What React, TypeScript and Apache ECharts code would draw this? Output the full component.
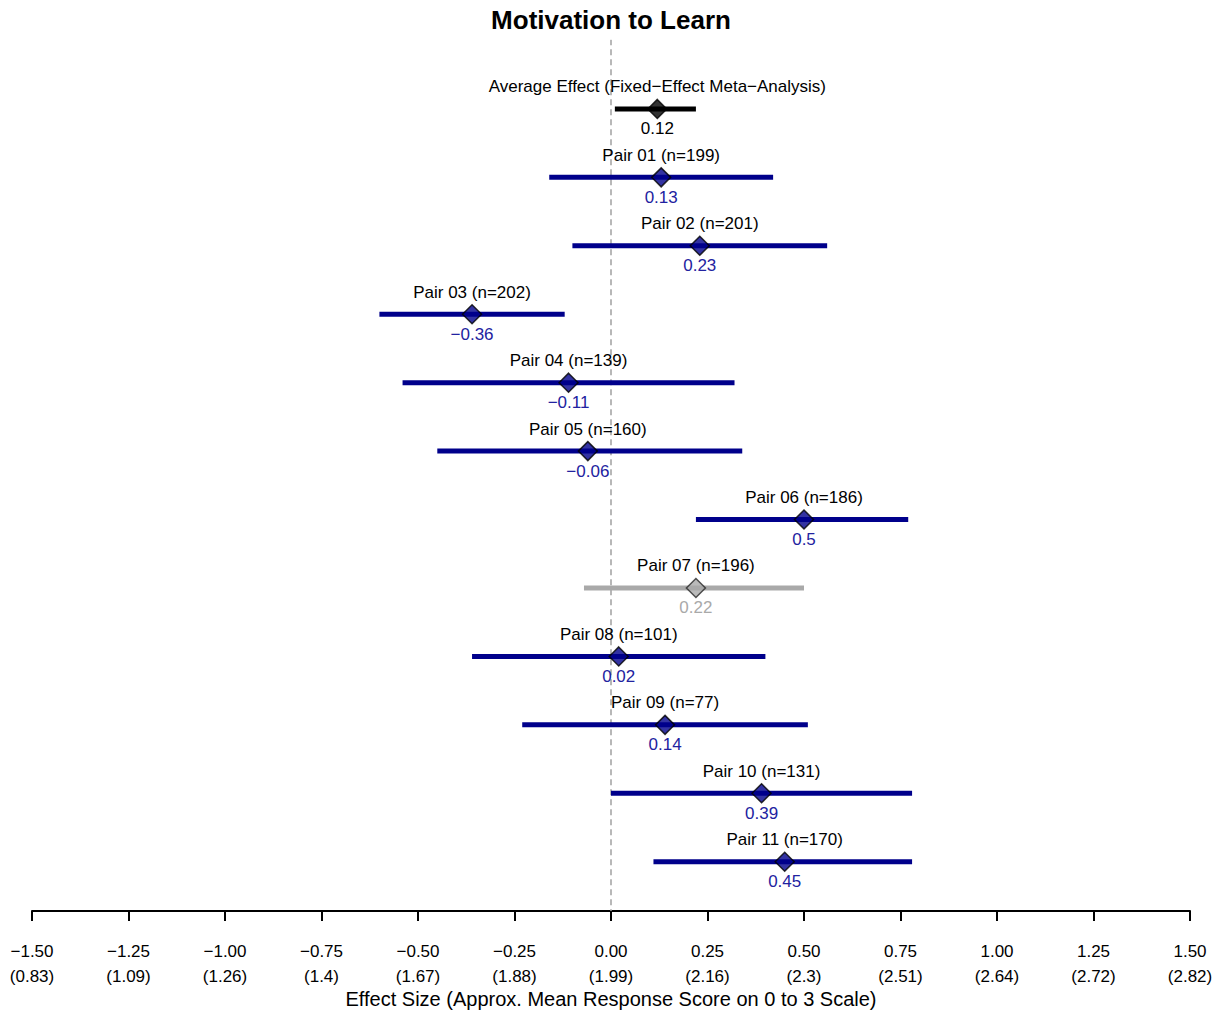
import React, { useEffect, useRef } from "react";
import * as echarts from "echarts";

const rowLabels = [
  "Average Effect (Fixed\u2212Effect Meta\u2212Analysis)",
  "Pair 01 (n=199)",
  "Pair 02 (n=201)",
  "Pair 03 (n=202)",
  "Pair 04 (n=139)",
  "Pair 05 (n=160)",
  "Pair 06 (n=186)",
  "Pair 07 (n=196)",
  "Pair 08 (n=101)",
  "Pair 09 (n=77)",
  "Pair 10 (n=131)",
  "Pair 11 (n=170)",
];
const estimates = [0.12, 0.13, 0.23, -0.36, -0.11, -0.06, 0.5, 0.22, 0.02, 0.14, 0.39, 0.45];
const lowerCI = [0.01, -0.16, -0.1, -0.6, -0.54, -0.45, 0.22, -0.07, -0.36, -0.23, 0.0, 0.11];
const upperCI = [0.22, 0.42, 0.56, -0.12, 0.32, 0.34, 0.77, 0.5, 0.4, 0.51, 0.78, 0.78];
const rowKinds = ["average", "pair", "pair", "pair", "pair", "pair", "pair", "excluded", "pair", "pair", "pair", "pair"];

const tickPrimary = ["\u22121.50", "\u22121.25", "\u22121.00", "\u22120.75", "\u22120.50", "\u22120.25", "0.00", "0.25", "0.50", "0.75", "1.00", "1.25", "1.50"];
const tickSecondary = ["0.83", "1.09", "1.26", "1.4", "1.67", "1.88", "1.99", "2.16", "2.3", "2.51", "2.64", "2.72", "2.82"];

const FONT = "'Liberation Sans', Arial, sans-serif";
const colors: Record<string, { line: string; fill: string; border: string; value: string }> = {
  average: { line: "#000000", fill: "#000000", border: "#000000", value: "#000000" },
  pair: { line: "#00008B", fill: "#00008B", border: "#000000", value: "#2222a0" },
  excluded: { line: "#A9A9A9", fill: "#A9A9A9", border: "#2a2a2a", value: "#A9A9A9" },
};

function fmtVal(v: number) {
  const s = String(Math.abs(v));
  return v < 0 ? "\u2212" + s : s;
}

export default function App() {
  const ref = useRef<HTMLDivElement>(null);
  useEffect(() => {
    document.body.style.margin = "0";
    if (!ref.current) return;
    const chart = echarts.init(ref.current, undefined, { renderer: "svg" });
    const rows = rowLabels.map((name, i) => [lowerCI[i], upperCI[i], i, estimates[i]]);
    chart.setOption({
      animation: false,
      title: {
        text: "Motivation to Learn",
        left: "center",
        top: 2,
        textStyle: { fontFamily: FONT, fontSize: 26, fontWeight: "bold", color: "#000" },
      },
      grid: { left: 32, right: 32, top: 40.5, bottom: 103, containLabel: false, outerBoundsMode: "none" },
      xAxis: {
        type: "value",
        min: -1.5,
        max: 1.5,
        interval: 0.25,
        splitLine: { show: false },
        axisLine: { show: true, onZero: false, lineStyle: { color: "#000", width: 2 } },
        axisTick: { show: true, length: 10, inside: false, lineStyle: { color: "#000", width: 2 } },
        axisLabel: {
          fontFamily: FONT,
          fontSize: 17,
          lineHeight: 25,
          color: "#000",
          margin: 28,
          showMinLabel: true,
          showMaxLabel: true,
          formatter: (v: number) => {
            const idx = Math.round((v + 1.5) / 0.25);
            return tickPrimary[idx] + "\n(" + tickSecondary[idx] + ")";
          },
        },
        name: "Effect Size (Approx. Mean Response Score on 0 to 3 Scale)",
        nameLocation: "middle",
        nameGap: 78,
        nameMoveOverlap: false,
        nameTextStyle: { fontFamily: FONT, fontSize: 20, color: "#000" },
      },
      yAxis: {
        type: "value",
        inverse: true,
        min: -1,
        max: 11.72,
        show: false,
      },
      series: [
        {
          type: "line",
          data: [[0, -1.02], [0, 11.72]],
          symbol: "none",
          lineStyle: { color: "#A0A0A0", width: 1.5, type: [6, 4] },
          z: 1,
          silent: true,
        },
        {
          type: "custom",
          data: rows,
          z: 2,
          encode: { x: [0, 1], y: 2 },
          renderItem: (params: any, api: any) => {
            const i = params.dataIndex;
            const c = colors[rowKinds[i]];
            const p1 = api.coord([api.value(0), api.value(2)]);
            const p2 = api.coord([api.value(1), api.value(2)]);
            const pm = api.coord([api.value(3), api.value(2)]);
            return {
              type: "group",
              children: [
                {
                  type: "line",
                  shape: { x1: p1[0], y1: p1[1], x2: p2[0], y2: p2[1] },
                  style: { stroke: c.line, lineWidth: 5 },
                },
                {
                  type: "text",
                  x: pm[0],
                  y: pm[1] - 22,
                  style: {
                    text: rowLabels[i],
                    textAlign: "center",
                    textVerticalAlign: "middle",
                    font: `17px ${FONT}`,
                    fill: "#000",
                  },
                },
                {
                  type: "text",
                  x: pm[0],
                  y: pm[1] + 20,
                  style: {
                    text: fmtVal(estimates[i]),
                    textAlign: "center",
                    textVerticalAlign: "middle",
                    font: `17px ${FONT}`,
                    fill: c.value,
                  },
                },
              ],
            };
          },
        },
        {
          type: "scatter",
          z: 3,
          symbol: "diamond",
          symbolSize: 19,
          data: estimates.map((v, i) => ({
            value: [v, i],
            itemStyle: {
              color: colors[rowKinds[i]].fill,
              borderColor: colors[rowKinds[i]].border,
              borderWidth: 1.5,
            },
          })),
        },
      ],
    });
    return () => chart.dispose();
  }, []);
  return <div ref={ref} style={{ width: 1222, height: 1014 }} />;
}
